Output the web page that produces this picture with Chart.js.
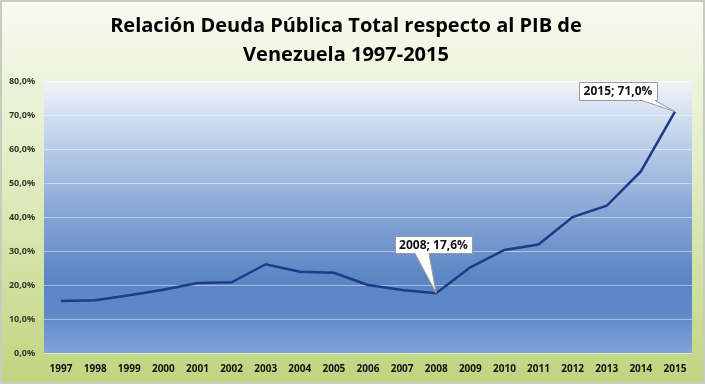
<!DOCTYPE html>
<html>
<head>
<meta charset="utf-8">
<script src="https://cdn.jsdelivr.net/npm/chart.js@4.4.1/dist/chart.umd.min.js"></script>
<style>
html,body{margin:0;padding:0;background:#fff;}
#wrap{width:705px;height:384px;position:relative;}
</style>
</head>
<body>
<div id="wrap"><canvas id="c" width="705" height="384"></canvas></div>
<script>
const titleLines = ['Relación Deuda Pública Total respecto al PIB de', 'Venezuela 1997-2015'];
const years = ['1997','1998','1999','2000','2001','2002','2003','2004','2005','2006','2007','2008','2009','2010','2011','2012','2013','2014','2015'];
const debtPct = [15.3,15.5,17.0,18.6,20.6,20.8,26.1,23.9,23.6,20.0,18.5,17.6,25.2,30.3,31.9,40.0,43.3,53.4,71.0];
const calloutYears = ['2008','2015'];
const yTicks = [0,10,20,30,40,50,60,70,80];

const FONT = "'Open Sans'";
const fmt = v => v.toFixed(1).replace('.', ',') + '%';

const bgPlugin = {
  id: 'bg',
  beforeDraw(chart) {
    const {ctx, chartArea: a, width, height} = chart;
    ctx.save();
    let g = ctx.createLinearGradient(0, 0, 0, height);
    g.addColorStop(0, '#f8faf0');
    g.addColorStop(0.45, '#e2ecc4');
    g.addColorStop(1, '#bfd57f');
    ctx.fillStyle = g;
    ctx.fillRect(0, 0, width, height);
    ctx.strokeStyle = '#c8cbc0';
    ctx.lineWidth = 2;
    ctx.strokeRect(1, 1, width - 2, height - 2);
    g = ctx.createLinearGradient(0, a.top, 0, a.bottom);
    g.addColorStop(0, '#f2f4f9');
    g.addColorStop(0.15, '#ccdbef');
    g.addColorStop(0.45, '#8eabd8');
    g.addColorStop(0.72, '#5c85c4');
    g.addColorStop(0.85, '#5e88c7');
    g.addColorStop(1, '#7fa3d8');
    ctx.fillStyle = g;
    ctx.fillRect(a.left, a.top, a.right - a.left, a.bottom - a.top);
    ctx.restore();
  }
};

const calloutPlugin = {
  id: 'callouts',
  afterDatasetsDraw(chart) {
    const {ctx} = chart;
    const meta = chart.getDatasetMeta(0);
    const specs = {
      '2008': {dx: -41, dy: -57, w: 77, h: 17, b1: 20, b2: 34},
      '2015': {dx: -96, dy: -30, w: 78, h: 18, b1: 63, b2: 76}
    };
    ctx.save();
    calloutYears.forEach(yr => {
      const i = years.indexOf(yr);
      const p = meta.data[i];
      const s = specs[yr];
      const bx = Math.round(p.x + s.dx), by = Math.round(p.y + s.dy);
      ctx.fillStyle = '#ffffff';
      ctx.strokeStyle = '#9a9a9a';
      ctx.lineWidth = 1;
      ctx.beginPath();
      ctx.moveTo(bx + 0.5, by + 0.5);
      ctx.lineTo(bx + s.w + 0.5, by + 0.5);
      ctx.lineTo(bx + s.w + 0.5, by + s.h + 0.5);
      ctx.lineTo(bx + s.b2, by + s.h + 0.5);
      ctx.lineTo(p.x, p.y);
      ctx.lineTo(bx + s.b1, by + s.h + 0.5);
      ctx.lineTo(bx + 0.5, by + s.h + 0.5);
      ctx.closePath();
      ctx.fill();
      ctx.stroke();
      ctx.fillStyle = '#111';
      ctx.font = "bold 12px " + FONT;
      ctx.textAlign = 'center';
      ctx.textBaseline = 'middle';
      ctx.fillText(yr + '; ' + fmt(debtPct[i]), bx + s.w / 2, by + s.h / 2 + 1);
    });
    ctx.restore();
  }
};

new Chart(document.getElementById('c'), {
  type: 'line',
  data: {
    labels: years,
    datasets: [{
      data: debtPct,
      borderColor: '#1c3c88',
      borderWidth: 2.5,
      pointRadius: 0,
      tension: 0,
      fill: false
    }]
  },
  options: {
    responsive: false,
    animation: false,
    layout: {padding: {left: 0, right: 13, top: 0, bottom: 0}},
    plugins: {
      legend: {display: false},
      tooltip: {enabled: false},
      title: {
        display: true,
        text: titleLines,
        color: '#000',
        font: {family: FONT, weight: 'bold', size: 20, lineHeight: 1.45},
        padding: {top: 12, bottom: 11}
      }
    },
    scales: {
      x: {
        offset: true,
        grid: {display: false, drawTicks: false},
        border: {display: false},
        ticks: {color: '#111', font: {family: FONT, weight: 'bold', size: 10}, padding: 10, maxRotation: 0, autoSkip: false},
        afterFit: s => { s.height = 31; }
      },
      y: {
        min: 0, max: 80,
        afterBuildTicks: s => { s.ticks = yTicks.map(v => ({value: v})); },
        grid: {color: 'rgba(255,255,255,0.45)', lineWidth: 1, drawTicks: false},
        border: {display: false},
        ticks: {color: '#2f3a2a', font: {family: FONT, weight: 'bold', size: 9}, padding: 9, callback: v => fmt(v)},
        afterFit: s => { s.width = 44; }
      }
    }
  },
  plugins: [bgPlugin, calloutPlugin]
});
</script>
</body>
</html>
